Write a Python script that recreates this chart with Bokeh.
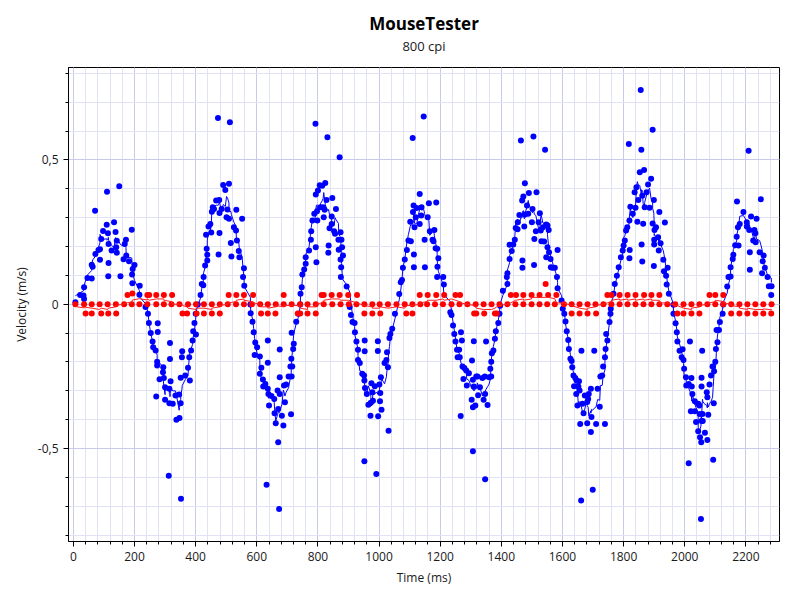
import pandas as pd
from bokeh.plotting import figure
from bokeh.models import Range1d, FixedTicker, Title, ColumnDataSource, CustomJSTickFormatter
from bokeh.embed import file_html
from bokeh.resources import INLINE

# ---- data (time in ms, velocity in m/s) ----
blue_t = [6.5, 22, 33, 35, 35, 46, 60, 60, 63, 71, 72, 82, 87, 87, 91, 97, 109, 110, 113, 114, 115, 115, 125, 133, 138, 140, 142, 142, 150, 154, 164, 168, 172, 173, 182, 191, 192, 193, 194, 200, 216, 217, 236, 244, 247, 253, 259, 261, 269, 271, 274, 274, 276, 276, 282, 293, 294, 296, 300, 300, 312, 314, 314, 316, 316, 318, 325, 334, 337, 346, 347, 351, 351, 352, 355, 356,
          366, 375, 379, 381, 385, 390, 392, 396, 400, 401, 407, 416, 420, 425, 426, 431, 434, 436, 438, 438, 442, 448, 451, 453, 456, 460, 467, 473, 475, 477, 478, 478, 485, 490, 497, 501, 504, 509, 509, 512, 515, 517, 525, 532, 533, 535, 541, 543, 552, 555, 558, 559, 579, 580, 586, 590, 593, 595, 601, 610, 610, 615, 620, 621, 628, 632, 636, 636, 636, 638, 640, 648, 657, 658, 662, 668, 670, 670, 673, 675, 675, 675, 682, 687, 689, 692, 696, 704, 710, 712, 713, 714, 714, 716, 719, 721, 729, 736, 742, 743, 747, 749, 755, 760, 760,
          771, 777, 778, 782, 788, 792, 793, 793, 795, 797, 798, 800, 806, 808, 814, 817, 819, 822, 824, 828, 831, 834, 835, 838, 845, 845, 847, 853, 856, 859, 867, 868, 871, 874, 874, 875, 876, 877, 879, 882, 894, 904, 908, 913, 920, 921, 926, 931, 931, 937, 945, 951, 952, 952, 953, 953, 954, 960, 965, 972, 973, 975, 978, 980, 986, 991, 996, 996, 997, 1001, 1003, 1004, 1006, 1008, 1018, 1024, 1026, 1029, 1031, 1034, 1037, 1043, 1052, 1066, 1071, 1075, 1078, 1084, 1091, 1096, 1102, 1104, 1110, 1111, 1113, 1114, 1114, 1116, 1120, 1123, 1133, 1133, 1138, 1139, 1146, 1149, 1150,
          1159, 1163, 1166, 1175, 1178, 1181, 1185, 1187, 1190, 1190, 1191, 1194, 1210, 1212, 1233, 1237, 1242, 1246, 1250, 1255, 1257, 1262, 1264, 1267, 1268, 1271, 1273, 1276, 1279, 1285, 1287, 1294, 1303, 1304, 1307, 1307, 1307, 1310, 1310, 1315, 1318, 1322, 1324, 1330, 1338, 1342, 1346, 1347, 1347, 1350, 1355, 1360, 1364, 1367, 1367, 1369, 1374, 1379, 1382, 1390, 1394, 1396, 1405, 1418, 1420, 1420, 1427, 1427, 1434, 1439, 1444, 1447, 1453, 1454, 1459, 1464, 1468, 1469, 1469, 1472, 1475, 1477, 1477, 1484, 1488, 1490, 1500, 1502, 1505, 1507, 1508, 1513, 1515, 1522, 1526, 1529, 1531,
          1536, 1540, 1543, 1547, 1547, 1551, 1551, 1555, 1556, 1561, 1562, 1567, 1575, 1582, 1584, 1584, 1597, 1601, 1606, 1610, 1614, 1619, 1621, 1626, 1630, 1632, 1636, 1638, 1642, 1645, 1646, 1649, 1652, 1654, 1656, 1658, 1661, 1662, 1665, 1669, 1673, 1681, 1681, 1684, 1686, 1693, 1693, 1695, 1699, 1704, 1710, 1715, 1722, 1724, 1730, 1733, 1739, 1739, 1741, 1743, 1747, 1754, 1757, 1758, 1767, 1771, 1778, 1784, 1791, 1797, 1800, 1804, 1808, 1812, 1817, 1819, 1819, 1820, 1822, 1830, 1836, 1839, 1842, 1845, 1848, 1853, 1856, 1858, 1859, 1861, 1861, 1864, 1867, 1869, 1875, 1880, 1885, 1890, 1895, 1895, 1899, 1899, 1900, 1900, 1901, 1906, 1913, 1915, 1917,
          1921, 1930, 1932, 1935, 1939, 1941, 1944, 1948, 1963, 1963, 1970, 1974, 1976, 1983, 1990, 1993, 1996, 1998, 2004, 2005, 2013, 2013, 2017, 2020, 2022, 2023, 2025, 2033, 2033, 2037, 2044, 2044, 2048, 2049, 2050, 2053, 2054, 2055, 2055, 2055, 2057, 2058, 2059, 2066, 2072, 2074, 2074, 2077, 2081, 2086, 2091, 2093, 2095, 2096, 2100, 2102, 2104, 2107, 2112, 2115, 2124, 2126, 2139, 2143, 2150, 2150, 2157, 2159, 2165, 2170, 2171, 2174, 2176, 2180, 2192, 2203, 2203, 2209, 2211, 2213, 2213, 2217, 2224, 2228, 2231, 2232, 2235, 2245, 2249, 2253, 2255, 2258, 2262, 2271, 2275, 2283, 2284]

blue_v = [0.007, 0.032, 0.03, 0.018, 0.059, 0.091, 0.089, 0.137, 0.13, 0.324, 0.174, 0.188, 0.19, 0.154, 0.226, 0.254, 0.275, 0.39, 0.246, 0.097, 0.209, 0.143, 0.186, 0.284, 0.25, 0.197, 0.22, 0.178, 0.409, 0.097, 0.156, 0.209, 0.223, 0.169, 0.149, 0.258, 0.103, 0.073, 0.122, 0.136, 0.033, 0.064, -0.01, -0.033, -0.065, -0.1, -0.129, -0.149, -0.16, -0.32, -0.199, -0.212, -0.066, -0.096, -0.26, -0.236, -0.218, -0.256, -0.288, -0.331, -0.594, -0.293, -0.343, -0.134, -0.19, -0.267, -0.345, -0.316, -0.4, -0.313, -0.394, -0.343, -0.255, -0.674, -0.184, -0.163,
          -0.247, -0.22, -0.184, -0.264, -0.16, -0.126, -0.094, -0.065, -0.033, -0.105, -0.001, 0.032, 0.07, 0.066, 0.094, 0.134, 0.241, 0.192, 0.151, 0.171, 0.269, 0.278, 0.248, 0.32, 0.336, 0.33, 0.359, 0.645, 0.172, 0.361, 0.316, 0.247, 0.33, 0.413, 0.396, 0.301, 0.328, 0.417, 0.296, 0.63, 0.212, 0.165, 0.267, 0.255, 0.327, 0.221, 0.184, 0.163, 0.296, 0.094, 0.125, 0.064, -0.001, -0.031, -0.061, -0.097, -0.176, -0.133, -0.149, -0.181, -0.241, -0.22, -0.261, -0.285, -0.276, -0.625, -0.126, -0.203, -0.293, -0.311, -0.351, -0.318, -0.328, -0.378, -0.412, -0.299, -0.363, -0.478, -0.709, -0.157, -0.253, -0.311, -0.386, -0.42, -0.282, -0.34, -0.278, -0.25, -0.216, -0.381, -0.189, -0.25, -0.099, -0.216, -0.155, -0.137, -0.061, -0.033, -0.001, 0.036, 0.059, 0.103, 0.12, 0.14, 0.163,
          0.186, 0.223, 0.253, 0.29, 0.313, 0.625, 0.197, 0.38, 0.145, 0.322, 0.29, 0.394, 0.412, 0.336, 0.41, 0.336, 0.301, 0.327, 0.42, 0.361, 0.578, 0.178, 0.203, 0.263, 0.304, 0.278, 0.368, 0.253, 0.244, 0.33, 0.223, 0.189, 0.509, 0.249, 0.155, 0.094, 0.128, 0.223, 0.197, 0.169, 0.061, -0.01, -0.037, -0.062, -0.065, -0.097, -0.129, -0.158, -0.193, -0.204, -0.241, -0.247, -0.264, -0.544, -0.126, -0.163, -0.29, -0.311, -0.348, -0.386, -0.341, -0.274, -0.305, -0.334, -0.284, -0.588, -0.128, -0.162, -0.388, -0.278, -0.336, -0.308, -0.253, -0.366, -0.204, -0.193, -0.166, -0.218, -0.438, -0.117, -0.103, -0.085, -0.033, 0.035, 0.076, 0.084, 0.126, 0.155, 0.188, 0.221, 0.286, 0.218, 0.576, 0.319, 0.342, 0.172, 0.128, 0.267, 0.301, 0.333, 0.382, 0.278, 0.307, 0.336, 0.65, 0.223, 0.128,
          0.301, 0.35, 0.253, 0.223, 0.218, 0.257, 0.194, 0.352, 0.192, 0.094, 0.13, 0.159, 0.094, 0.068, -0.028, -0.037, -0.074, -0.103, -0.129, -0.158, -0.184, -0.158, -0.184, -0.387, -0.097, -0.126, -0.216, -0.259, -0.221, -0.23, -0.282, -0.239, -0.331, -0.195, -0.357, -0.262, -0.509, -0.128, -0.285, -0.351, -0.25, -0.25, -0.315, -0.288, -0.256, -0.331, -0.25, -0.311, -0.606, -0.129, -0.349, -0.253, -0.224, -0.199, -0.25, -0.17, -0.16, -0.12, -0.094, -0.065, -0.033, -0.005, 0.047, 0.094, 0.07, 0.107, 0.157, 0.206, 0.184, 0.207, 0.223, 0.264, 0.26, 0.284, 0.309, 0.567, 0.359, 0.151, 0.126, 0.373, 0.269, 0.419, 0.311, 0.342, 0.313, 0.385, 0.284, 0.33, 0.581, 0.136, 0.226, 0.253, 0.388, 0.284, 0.315, 0.255, 0.218,
          0.267, 0.217, 0.535, 0.276, 0.163, 0.273, 0.197, 0.257, 0.18, 0.157, 0.128, 0.126, 0.126, 0.094, 0.188, 0.055, 0.013, -0.016, -0.033, -0.06, -0.094, -0.124, -0.155, -0.189, -0.197, -0.218, -0.247, -0.284, -0.256, -0.311, -0.264, -0.351, -0.285, -0.267, -0.299, -0.415, -0.68, -0.161, -0.345, -0.378, -0.316, -0.339, -0.412, -0.328, -0.311, -0.293, -0.443, -0.391, -0.643, -0.161, -0.415, -0.293, -0.355, -0.25, -0.247, -0.216, -0.415, -0.184, -0.155, -0.103, -0.126, -0.062, -0.033, -0.016, 0.036, 0.07, 0.099, 0.128, 0.163, 0.186, 0.203, 0.221, 0.255, 0.267, 0.555, 0.159, 0.29, 0.188, 0.338, 0.313, 0.388, 0.334, 0.405, 0.286, 0.361, 0.457, 0.742, 0.535, 0.207, 0.376, 0.148, 0.279, 0.465, 0.336, 0.388, 0.415, 0.334, 0.435, 0.604, 0.28, 0.361, 0.132, 0.223, 0.207, 0.257, 0.267, 0.232, 0.186, 0.319,
          0.211, 0.154, 0.114, 0.283, 0.099, 0.068, 0.126, 0.036, -0.002, -0.033, -0.066, -0.097, -0.129, -0.161, -0.184, -0.156, -0.193, -0.224, -0.253, -0.282, -0.276, -0.551, -0.129, -0.371, -0.256, -0.285, -0.311, -0.371, -0.336, -0.408, -0.345, -0.44, -0.351, -0.38, -0.461, -0.744, -0.478, -0.405, -0.285, -0.255, -0.161, -0.38, -0.405, -0.445, -0.305, -0.322, -0.47, -0.383, -0.278, -0.247, -0.216, -0.539, -0.343, -0.232, -0.199, -0.155, -0.089, -0.132, -0.089, -0.062, -0.033, -0.001, 0.061, 0.094, 0.096, 0.128, 0.157, 0.171, 0.204, 0.234, 0.356, 0.267, 0.203, 0.278, 0.319, 0.284, 0.269, 0.532, 0.257, 0.18, 0.119, 0.304, 0.221, 0.257, 0.246, 0.215, 0.296, 0.18, 0.364, 0.107, 0.149, 0.169, 0.126, 0.094, 0.062, 0.032, 0.062]

red_zero_t = [6.5, 35, 60, 86, 112, 139, 166, 191, 216, 242, 271, 296, 321, 347, 375, 401, 427, 453, 479, 505, 532, 558, 584, 611, 636, 662, 688, 714, 742, 766, 793, 819, 847, 874, 901, 926, 952, 978, 1002, 1029, 1057, 1084, 1109, 1135, 1157, 1183, 1209, 1237, 1263, 1289, 1316, 1342, 1368, 1394, 1420, 1446, 1472, 1499, 1525, 1550, 1575, 1605, 1630, 1656, 1682, 1708, 1734, 1760, 1787, 1813, 1839, 1865, 1891, 1917, 1943, 1969, 1996, 2022, 2048, 2074, 2100, 2126, 2152, 2179, 2205, 2231, 2257, 2284]
red_pos_t = [177, 193, 242, 248, 271, 296, 323, 508, 533, 558, 588, 688, 812, 819, 845, 871, 899, 928, 1133, 1159, 1187, 1213, 1250, 1265, 1431, 1448, 1472, 1499, 1525, 1545, 1553, 1580, 1747, 1760, 1787, 1813, 1839, 1867, 1891, 1917, 2081, 2100, 2126]
red_pos_v = [0.032, 0.037, 0.032, 0.032, 0.032, 0.032, 0.032, 0.032, 0.032, 0.032, 0.032, 0.032, 0.032, 0.032, 0.032, 0.032, 0.032, 0.032, 0.032, 0.032, 0.032, 0.032, 0.032, 0.032, 0.032, 0.032, 0.032, 0.032, 0.032, 0.07, 0.032, 0.032, 0.032, 0.032, 0.032, 0.032, 0.032, 0.032, 0.032, 0.032, 0.032, 0.032, 0.032]
red_neg_t = [40, 60, 91, 114, 140, 357, 372, 403, 427, 453, 479, 614, 636, 661, 734, 742, 766, 793, 952, 978, 1004, 1089, 1109, 1311, 1318, 1344, 1379, 1385, 1630, 1656, 1682, 1710, 1976, 1996, 2022, 2048, 2152, 2179, 2205, 2231, 2257, 2283]
red_neg_v = [-0.032] * len(red_neg_t)

x_major_ticks = [0, 200, 400, 600, 800, 1000, 1200, 1400, 1600, 1800, 2000, 2200]
x_minor_ticks = list(range(0, 2300, 40))
y_major_ticks = [-0.5, 0, 0.5]
y_minor_ticks = [-0.8, -0.7, -0.6, -0.5, -0.4, -0.3, -0.2, -0.1, 0, 0.1, 0.2, 0.3, 0.4, 0.5, 0.6, 0.7, 0.8]

# ---- sources ----
bdf = pd.DataFrame({"t": blue_t, "v": blue_v}).sort_values("t", kind="stable").reset_index(drop=True)
bdf["m"] = bdf["v"].rolling(9, center=True, min_periods=1).mean()

rdf = pd.DataFrame({
    "t": red_zero_t + red_pos_t + red_neg_t,
    "v": [0.0] * len(red_zero_t) + red_pos_v + red_neg_v,
}).sort_values("t", kind="stable").reset_index(drop=True)
rdf["m"] = rdf["v"].rolling(7, center=True, min_periods=1).mean()

bsrc = ColumnDataSource(bdf)
rsrc = ColumnDataSource(rdf)

FONT = "Open Sans"
TXT = "#1a1a1a"

p = figure(width=792, height=592, output_backend="svg", toolbar_location=None,
           x_range=Range1d(-16, 2310), y_range=Range1d(-0.822, 0.82),
           min_border_left=68, min_border_right=13, min_border_bottom=51, min_border_top=67)
p.background_fill_color = "white"
p.border_fill_color = "white"
p.outline_line_color = "black"
p.outline_line_width = 1

# spacer (closest to the frame), then subtitle, then main title
p.add_layout(Title(text=" ", text_font=FONT, text_font_size="2px", standoff=7, align="center"), "above")
p.add_layout(Title(text="800 cpi", align="center", text_font=FONT, text_font_size="13px",
                   text_font_style="normal", text_color=TXT, standoff=1), "above")
p.add_layout(Title(text="MouseTester", align="center", text_font=FONT, text_font_size="17px",
                   text_font_style="bold", text_color="black", standoff=0), "above")

p.xaxis.ticker = FixedTicker(ticks=x_major_ticks, minor_ticks=x_minor_ticks)
p.yaxis.ticker = FixedTicker(ticks=y_major_ticks, minor_ticks=y_minor_ticks)
p.yaxis.formatter = CustomJSTickFormatter(code="return String(tick).replace('.', ',');")

for ax in (p.xaxis[0], p.yaxis[0]):
    ax.axis_line_color = "black"
    ax.major_tick_line_color = "black"
    ax.minor_tick_line_color = "black"
    ax.major_tick_out = 5
    ax.major_tick_in = 0
    ax.minor_tick_out = 3
    ax.minor_tick_in = 0
    ax.major_label_text_font = FONT
    ax.major_label_text_font_size = "12px"
    ax.major_label_text_color = TXT
    ax.axis_label_text_font = FONT
    ax.axis_label_text_font_size = "12px"
    ax.axis_label_text_font_style = "normal"
    ax.axis_label_text_color = TXT

p.xaxis.axis_label = "Time (ms)"
p.yaxis.axis_label = "Velocity (m/s)"

for g in (p.xgrid[0], p.ygrid[0]):
    g.grid_line_color = "#c9c9ec"
    g.grid_line_width = 1
    g.minor_grid_line_color = "#e2e2f6"
    g.minor_grid_line_width = 1

p.scatter("t", "v", source=bsrc, size=6, color="#0000ff", line_width=0)
p.line("t", "m", source=bsrc, line_color="#0000ff", line_width=1)
p.scatter("t", "v", source=rsrc, size=6, color="#ff0000", line_width=0)
p.line("t", "m", source=rsrc, line_color="#ff2020", line_width=1)

open("out.html", "w").write(file_html(p, INLINE))
